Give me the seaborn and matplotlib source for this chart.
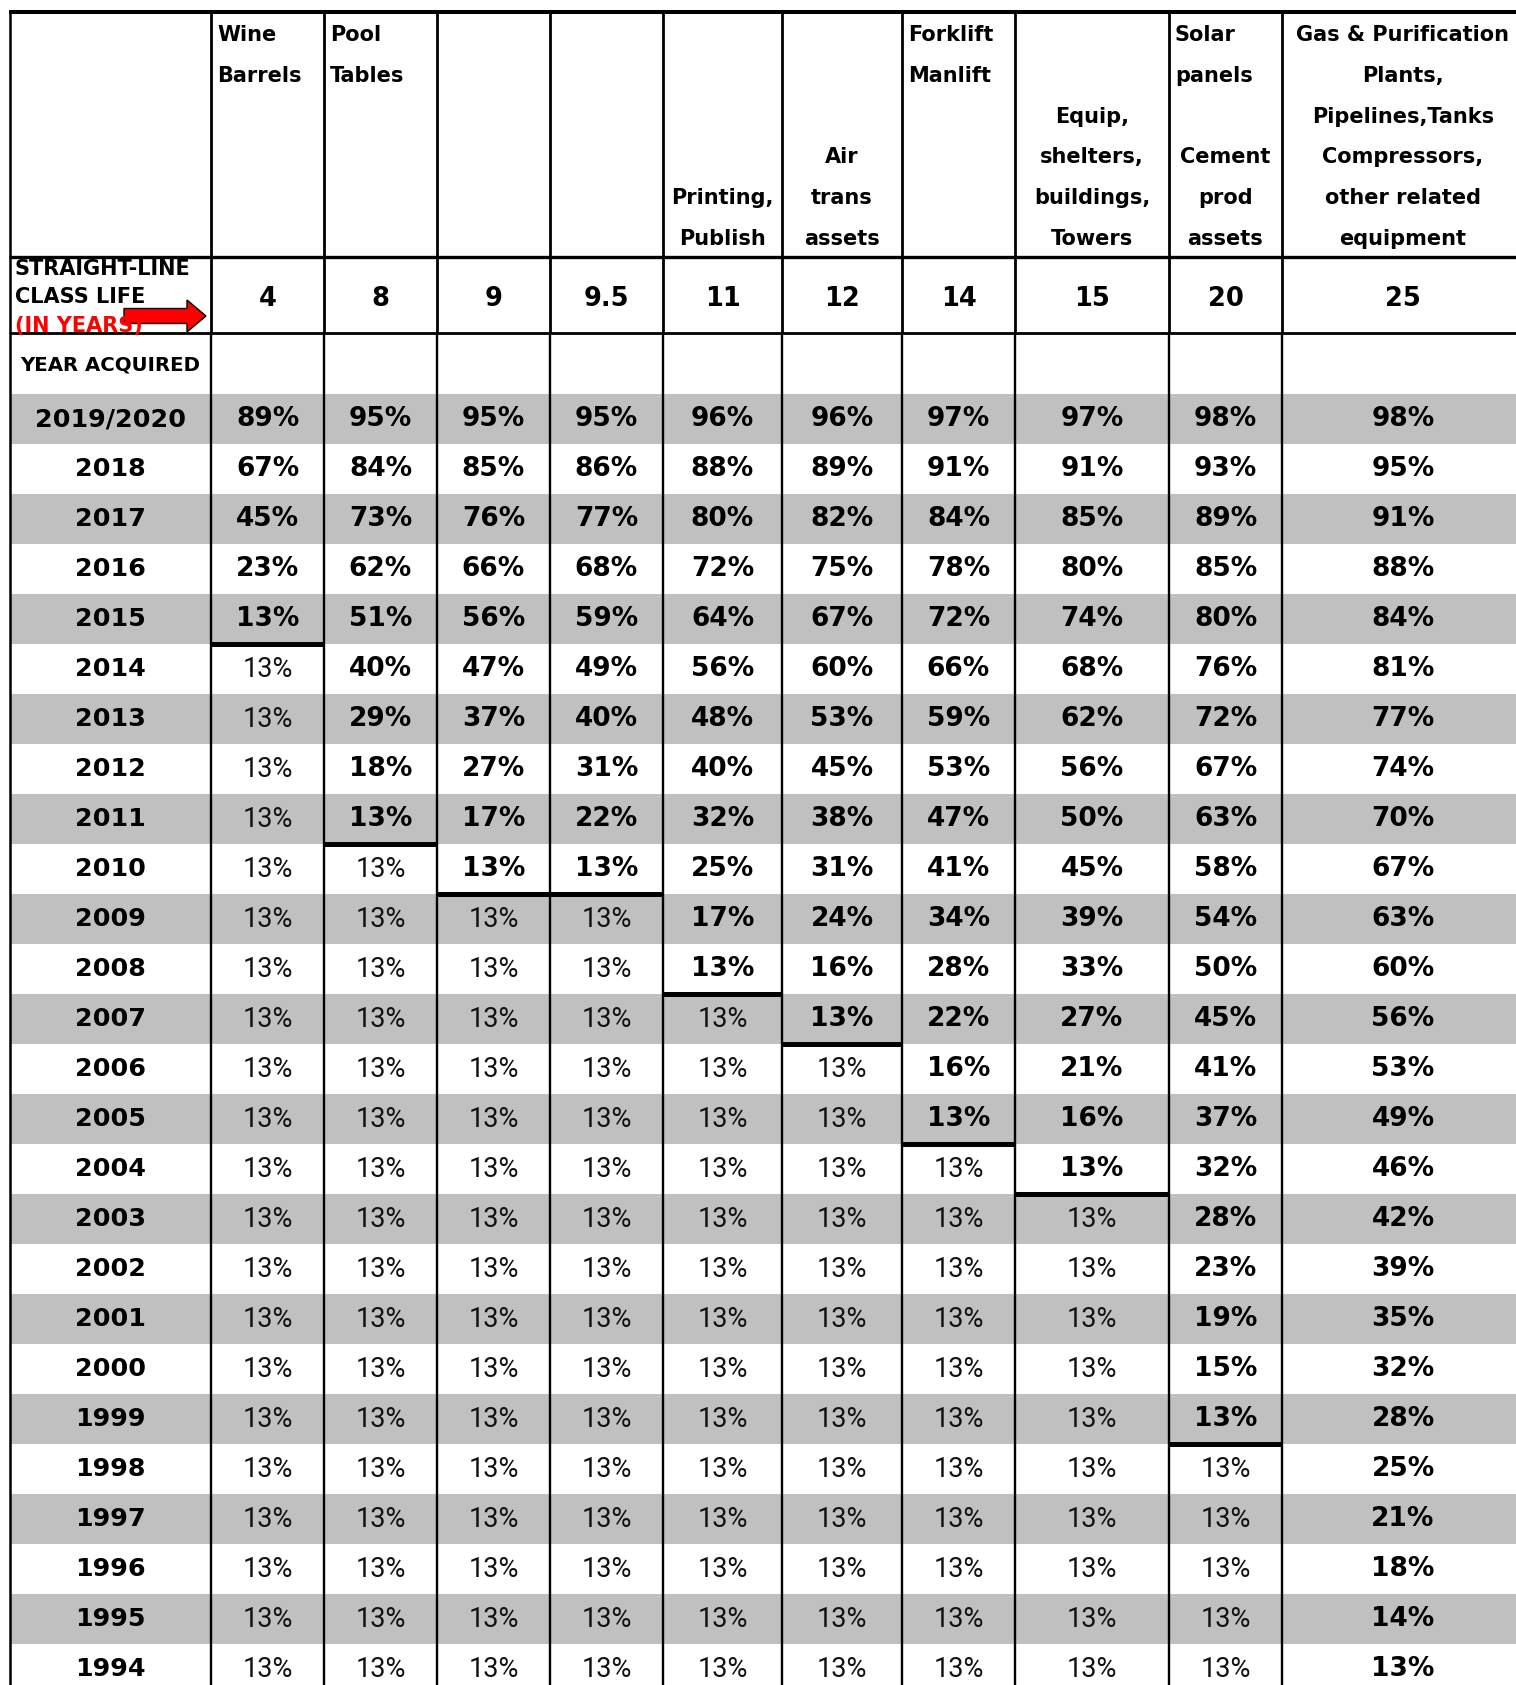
import numpy as np
import matplotlib
matplotlib.use("Agg")
import matplotlib.pyplot as plt
import seaborn as sns
from matplotlib.colors import ListedColormap
from matplotlib.patches import FancyArrow, Rectangle

# ---------------- data ----------------
years = ["2019/2020", "2018", "2017", "2016", "2015", "2014", "2013", "2012", "2011",
         "2010", "2009", "2008", "2007", "2006", "2005", "2004", "2003", "2002",
         "2001", "2000", "1999", "1998", "1997", "1996", "1995", "1994"]

class_life = ["4", "8", "9", "9.5", "11", "12", "14", "15", "20", "25"]

header_top = ["Wine\nBarrels", "Pool\nTables", "", "", "", "", "Forklift\nManlift", "",
              "Solar\npanels", ""]
header_bottom = ["", "", "", "", "Printing,\nPublish", "Air\ntrans\nassets", "",
                 "Equip,\nshelters,\nbuildings,\nTowers", "Cement\nprod\nassets",
                 "Gas & Purification\nPlants,\nPipelines,Tanks\nCompressors,\nother related\nequipment"]

life_4 = [89, 67, 45, 23, 13, 13, 13, 13, 13, 13, 13, 13, 13, 13, 13, 13, 13, 13, 13, 13, 13, 13, 13, 13, 13, 13]
life_8 = [95, 84, 73, 62, 51, 40, 29, 18, 13, 13, 13, 13, 13, 13, 13, 13, 13, 13, 13, 13, 13, 13, 13, 13, 13, 13]
life_9 = [95, 85, 76, 66, 56, 47, 37, 27, 17, 13, 13, 13, 13, 13, 13, 13, 13, 13, 13, 13, 13, 13, 13, 13, 13, 13]
life_9_5 = [95, 86, 77, 68, 59, 49, 40, 31, 22, 13, 13, 13, 13, 13, 13, 13, 13, 13, 13, 13, 13, 13, 13, 13, 13, 13]
life_11 = [96, 88, 80, 72, 64, 56, 48, 40, 32, 25, 17, 13, 13, 13, 13, 13, 13, 13, 13, 13, 13, 13, 13, 13, 13, 13]
life_12 = [96, 89, 82, 75, 67, 60, 53, 45, 38, 31, 24, 16, 13, 13, 13, 13, 13, 13, 13, 13, 13, 13, 13, 13, 13, 13]
life_14 = [97, 91, 84, 78, 72, 66, 59, 53, 47, 41, 34, 28, 22, 16, 13, 13, 13, 13, 13, 13, 13, 13, 13, 13, 13, 13]
life_15 = [97, 91, 85, 80, 74, 68, 62, 56, 50, 45, 39, 33, 27, 21, 16, 13, 13, 13, 13, 13, 13, 13, 13, 13, 13, 13]
life_20 = [98, 93, 89, 85, 80, 76, 72, 67, 63, 58, 54, 50, 45, 41, 37, 32, 28, 23, 19, 15, 13, 13, 13, 13, 13, 13]
life_25 = [98, 95, 91, 88, 84, 81, 77, 74, 70, 67, 63, 60, 56, 53, 49, 46, 42, 39, 35, 32, 28, 25, 21, 18, 14, 13]
columns = [life_4, life_8, life_9, life_9_5, life_11, life_12, life_14, life_15, life_20, life_25]
floor_value = 13

# ---------------- layout ----------------
W, H = 1516, 1685
DPI = 100
col_edges = [10, 211, 324, 437, 550, 663, 782, 902, 1015, 1169, 1282, 1524]
table_top, head_line, life_line, data_top, row_h = 12, 257, 333, 394, 50
n_rows = len(years)
data_bottom = data_top + row_h * n_rows
GREY = "#c0c0c0"

BOLD = ["DejaVu Sans"]
LIGHT = ["Roboto", "Lato", "DejaVu Sans"]

sns.set_theme(style="white")
plt.rcParams["font.family"] = ["DejaVu Sans"]
plt.rcParams["text.color"] = "black"

fig = plt.figure(figsize=(W / DPI, H / DPI), dpi=DPI)
stripes = (np.arange(n_rows) % 2 == 0).astype(float).reshape(-1, 1)
cmap = ListedColormap(["white", GREY])


def fig_rect(x0, x1, y0, y1):
    return [x0 / W, (H - y1) / H, (x1 - x0) / W, (y1 - y0) / H]


# year column + value columns as one-column heatmaps
all_cols = [years] + columns
for j, col in enumerate(all_cols):
    axh = fig.add_axes(fig_rect(col_edges[j], col_edges[j + 1], data_top, data_bottom))
    if j == 0:
        labels = np.array(col, dtype=object).reshape(-1, 1)
        bold_flags = [True] * n_rows
    else:
        labels = np.array([f"{v}%" for v in col], dtype=object).reshape(-1, 1)
        first = col.index(floor_value)
        bold_flags = [i <= first for i in range(n_rows)]
    sns.heatmap(stripes, ax=axh, cmap=cmap, vmin=0, vmax=1, cbar=False,
                annot=labels, fmt="", xticklabels=False, yticklabels=False,
                annot_kws=dict(color="black", fontsize=18))
    for t, b in zip(axh.texts, bold_flags):
        if b:
            t.set_fontfamily(BOLD)
            t.set_fontweight("bold")
            t.set_fontsize(18.3 if j == 0 else 19)
        else:
            t.set_fontfamily(LIGHT)
            t.set_fontweight("normal")
            t.set_fontsize(19.5)
            t.set_color("#111111")
    axh.set_axis_off()

# overlay axes in pixel coordinates
ax = fig.add_axes([0, 0, 1, 1])
ax.set_xlim(0, W)
ax.set_ylim(H, 0)
ax.set_axis_off()
ax.patch.set_visible(False)
ax.set_zorder(10)

# grid lines
ax.hlines(table_top, 9, W, color="black", lw=2.9)
ax.hlines(head_line, 9, W, color="black", lw=2.4)
ax.hlines(life_line, 9, W, color="black", lw=2.0)
ax.vlines(col_edges[0], table_top, H, color="black", lw=1.8)
for x in col_edges[1:-1]:
    ax.vlines(x, table_top, life_line, color="black", lw=2.0)
    ax.vlines(x, life_line, H, color="black", lw=1.7)

# thick line under first cell reaching the floor value
for j, col in enumerate(columns):
    first = col.index(floor_value)
    y = data_top + row_h * (first + 1)
    ax.hlines(y, col_edges[j + 1], col_edges[j + 2], color="black", lw=3.6)

# header texts
line_pitch = 40.8
for j in range(len(class_life)):
    x0, x1 = col_edges[j + 1], col_edges[j + 2]
    xc = (x0 + x1) / 2
    if header_top[j]:
        for k, line in enumerate(header_top[j].split("\n")):
            ax.text(x0 + 6, 33 + k * line_pitch, line, ha="left", va="center_baseline",
                    fontsize=15, fontweight="bold", family=BOLD, color="black")
    if header_bottom[j]:
        lines = header_bottom[j].split("\n")
        for k, line in enumerate(lines):
            y = 237 - (len(lines) - 1 - k) * line_pitch
            ax.text(xc, y, line, ha="center", va="center_baseline",
                    fontsize=15, fontweight="bold", family=BOLD, color="black")
    ax.text(xc, 299, class_life[j], ha="center", va="center",
            fontsize=18.5, fontweight="bold", family=BOLD, color="black")

# left header cells
ax.text(15, 269, "STRAIGHT-LINE", ha="left", va="center", fontsize=15,
        fontweight="bold", family=BOLD, color="black")
ax.text(15, 297, "CLASS LIFE", ha="left", va="center", fontsize=15,
        fontweight="bold", family=BOLD, color="black")
t_red = ax.text(15, 326, "(IN YEARS)", ha="left", va="center", fontsize=15,
                fontweight="bold", family=BOLD, color="red")
t_red.set_clip_path(Rectangle((9, head_line), 202, life_line - head_line,
                              transform=ax.transData))
ax.add_patch(FancyArrow(124, 316, 82, 0, width=15, head_width=32, head_length=19,
                        length_includes_head=True, facecolor="red",
                        edgecolor="black", lw=1.0))
ax.text(110, 365, "YEAR ACQUIRED", ha="center", va="center", fontsize=14.2,
        fontweight="bold", family=BOLD, color="black")

fig.savefig("out.png", dpi=DPI)
